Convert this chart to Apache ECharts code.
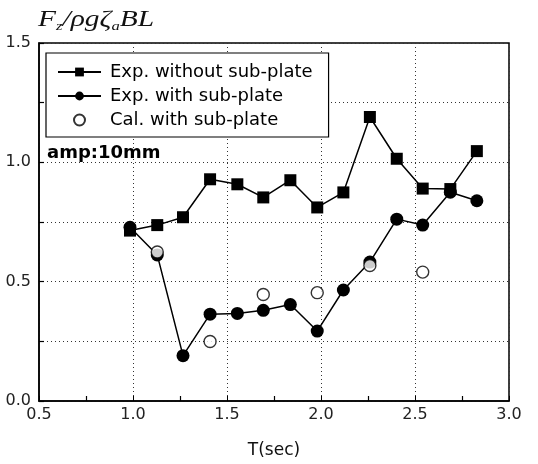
<!DOCTYPE html>
<html>
<head>
<meta charset="utf-8">
<script src="https://cdn.jsdelivr.net/npm/echarts@6/dist/echarts.min.js"></script>
<style>html,body{margin:0;padding:0;background:#fff}#c{width:538px;height:464px}</style>
</head>
<body>
<div id="c"></div>
<script>
var periodT = [0.984, 1.129, 1.266, 1.41, 1.555, 1.693, 1.837, 1.98, 2.119, 2.26, 2.403, 2.541, 2.688, 2.829];
var expWithout = [0.714, 0.737, 0.77, 0.929, 0.908, 0.853, 0.925, 0.811, 0.874, 1.19, 1.015, 0.89, 0.888, 1.047];
var expWith = [0.728, 0.612, 0.19, 0.364, 0.367, 0.38, 0.404, 0.293, 0.465, 0.582, 0.762, 0.737, 0.875, 0.839];
var calT = [1.129, 1.41, 1.693, 1.98, 2.26, 2.541];
var calWith = [0.624, 0.249, 0.446, 0.454, 0.568, 0.54];
var seriesNames = ['Exp. without sub-plate', 'Exp. with sub-plate', 'Cal. with sub-plate'];

function pairs(xs, ys) { return xs.map(function (x, i) { return [x, ys[i]]; }); }

var chart = echarts.init(document.getElementById('c'));
var gridLine = { show: true, lineStyle: { color: '#333', width: 1, type: [1, 3] } };
chart.setOption({
  animation: false,
  backgroundColor: '#fff',
  grid: { left: 39, right: 29, top: 43, bottom: 61, show: true, borderColor: '#000', borderWidth: 1.5, backgroundColor: 'transparent' },
  xAxis: {
    type: 'value', min: 0.5, max: 3.0, interval: 0.5,
    name: 'T(sec)', nameLocation: 'middle', nameGap: 41,
    nameTextStyle: { fontFamily: 'DejaVu Sans', fontSize: 17, color: '#111' },
    axisLine: { show: true, lineStyle: { color: '#000', width: 1.5 } },
    axisTick: { show: true, inside: true, length: 5, lineStyle: { color: '#000' } },
    minorTick: { show: true, splitNumber: 2, length: 5, lineStyle: { color: '#000', width: 1.2 } },
    axisLabel: { fontFamily: 'DejaVu Sans', fontSize: 16, color: '#222', margin: 6, formatter: function (v) { return v.toFixed(1); } },
    splitLine: gridLine
  },
  yAxis: {
    type: 'value', min: 0, max: 1.5, interval: 0.25,
    axisLine: { show: true, lineStyle: { color: '#000', width: 1.5 } },
    axisTick: { show: true, inside: true, length: 5, lineStyle: { color: '#000', width: 1.2 } },
    axisLabel: { fontFamily: 'DejaVu Sans', fontSize: 16, color: '#222', margin: 8,
      formatter: function (v) { return Math.abs(v * 2 - Math.round(v * 2)) < 1e-6 ? v.toFixed(1) : ''; } },
    splitLine: gridLine
  },
  legend: {
    orient: 'vertical', left: 46, top: 53,
    backgroundColor: '#fff', borderColor: '#000', borderWidth: 1.2, borderRadius: 0,
    padding: [10, 16, 8, 11], itemGap: 6, itemWidth: 43, itemHeight: 11,
    textStyle: { fontFamily: 'DejaVu Sans', fontSize: 18, color: '#000', padding: [0, 0, 0, 4] },
    data: seriesNames
  },
  graphic: [
    { type: 'text', x: 38, y: 7, scaleX: 1.28, z: 10,
      style: { text: '{i|F}{s|z}{i|/ρgζ}{s|a}{i|BL}', fill: '#111',
        rich: {
          i: { fontFamily: 'Liberation Serif', fontStyle: 'italic', fontSize: 23, lineHeight: 26 },
          s: { fontFamily: 'Liberation Serif', fontStyle: 'italic', fontSize: 13, lineHeight: 26, verticalAlign: 'bottom' }
        } } },
    { type: 'text', x: 47, y: 153, z: 10,
      style: { text: 'amp:10mm', fontFamily: 'DejaVu Sans', fontWeight: 'bold', fontSize: 18, fill: '#000', verticalAlign: 'middle' } }
  ],
  series: [
    { name: seriesNames[0], type: 'line', data: pairs(periodT, expWithout), symbol: 'rect', symbolSize: 12,
      lineStyle: { color: '#000', width: 1.5 }, itemStyle: { color: '#000' }, z: 3 },
    { name: seriesNames[1], type: 'line', data: pairs(periodT, expWith), symbol: 'circle', symbolSize: 13,
      lineStyle: { color: '#000', width: 1.5 }, itemStyle: { color: '#000' }, z: 3 },
    { name: seriesNames[2], type: 'scatter', data: pairs(calT, calWith), symbol: 'circle', symbolSize: 12,
      itemStyle: { color: '#fff', borderColor: '#000', borderWidth: 1.4 }, z: 4 }
  ]
});
</script>
</body>
</html>
